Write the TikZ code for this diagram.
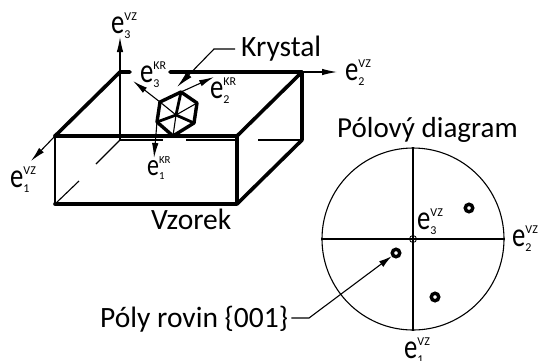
\documentclass[tikz,border=0pt]{standalone}
\usepackage{graphicx}
\usepackage{fontspec}
\setmainfont{Carlito}
\usetikzlibrary{arrows.meta}
\newcommand{\elab}[2]{\fontsize{29}{29}\selectfont\scalebox{.92}[1.18]{e}\rlap{\raisebox{13pt}{\fontsize{12}{12}\selectfont #1}}\raisebox{-5pt}{\fontsize{12}{12}\selectfont #2}}
\tikzset{
  x=1pt,y=-1pt,
  edge/.style={line width=3.6pt,line cap=round,line join=round},
  thinline/.style={line width=1.1pt},
  axis/.style={line width=1.1pt,-{Latex[length=15pt,width=6.5pt]}},
  hexthick/.style={line width=2.8pt,line join=round},
  lab/.style={inner sep=0pt,font=\fontsize{29.5}{30}\selectfont},
  elabel/.style={inner sep=0pt,anchor=base west},
  pole/.style={circle,draw,line width=3.4pt,minimum size=7.5pt,inner sep=0pt,fill=white},
}
\begin{document}
\begin{tikzpicture}
\useasboundingbox (0,0) rectangle (540,360);
% box corners
\coordinate (fl) at (55,136);
\coordinate (fr) at (237,136);
\coordinate (bfl) at (55,204);
\coordinate (bfr) at (237,204);
\coordinate (bl) at (120,72);
\coordinate (br) at (302,72);
\coordinate (brb) at (302,140);
\coordinate (o) at (120,140);
% box
\draw[edge] (fl) -- (bl) -- (130,72);
\draw[edge] (170,72) -- (br) -- (fr);
\draw[edge] (fl) -- (fr);
\draw[edge] (br) -- (brb) -- (bfr);
\draw[edge] (bfl) -- (bfr) -- (fr);
\draw[line width=2.4pt] (fl) -- (bfl);
% hidden axes
\draw[thinline] (o) -- (96,164) (79,181) -- (bfl);
\draw[thinline] (o) -- (163,140) (186,140) -- (237,140) (258,140) -- (brb);
\coordinate (t3) at (120,37);
\coordinate (t1) at (31,161);
\coordinate (t2) at (337,72);
\draw[axis] (o) -- (t3);
\draw[axis] (fl) -- (t1);
\draw[axis] (br) -- (t2);
% crystal
\coordinate (h1) at (181,92);
\coordinate (h2) at (197,103);
\coordinate (h3) at (194,123);
\coordinate (h4) at (173,136);
\coordinate (h5) at (157,122);
\coordinate (h6) at (160,102);
\coordinate (hc) at (176,115);
\draw[thinline] (h6) -- (hc) -- (h2) (hc) -- (h4);
\draw[hexthick] (h1) -- (hc) (h3) -- (hc) -- (h5);
\draw[line width=3.4pt,line join=round] (h1) -- (h2) -- (h3) -- (h4) -- (h5) -- (h6) -- cycle;
\coordinate (k3) at (133,81);
\coordinate (k2) at (214,77);
\coordinate (k1) at (154,158);
\draw[axis] (h6) -- (k3);
\draw[axis] (h1) -- (k2);
\draw[axis] (h5) -- (k1);
% labels
\node[lab,anchor=base west] (kry) at (241,56) {Krystal};
\node[lab,anchor=base west] (vzo) at (151,229) {Vzorek};
\node[lab,anchor=base west,font=\fontsize{29}{30}\selectfont] (pd) at (337,137) {Pólový diagram};
\node[lab,anchor=base west] (pr) at (100,327) {Póly rovin \{001\}};
\coordinate (kk) at (214,49);
\coordinate (kt) at (177,87);
\draw[thinline,-{Latex[length=17pt,width=7pt]}] ([xshift=-6]kry.west |- 0,49) -- (kk) -- (kt);
\node[elabel] (e3vz) at (111,33) {\elab{VZ}{3}};
\node[elabel] (e1vz) at (10,187) {\elab{VZ}{1}};
\node[elabel] (e2vz) at (345,80) {\elab{VZ}{2}};
\node[elabel] (e3kr) at (140,82) {\elab{KR}{3}};
\node[elabel] (e2kr) at (210,98) {\elab{KR}{2}};
\node[elabel,scale=.9] (e1kr) at (147,175) {\elab{KR}{1}};
% pole figure
\node[circle,draw,line width=1.1pt,minimum size=182pt,inner sep=0pt] (pf) at (413,239) {};
\draw[thinline] (pf.north) -- (pf.south) (pf.west) -- (pf.east);
\node[circle,draw,line width=.8pt,minimum size=7pt,inner sep=0pt] (ctr) at (pf.center) {};
\draw[line width=.6pt] (ctr.north) -- (ctr.south) (ctr.west) -- (ctr.east);
\node[pole] (p1) at (469,208) {};
\node[pole] (p2) at (396,253) {};
\node[pole] (p3) at (435,297) {};
\coordinate (pk) at (309,318);
\draw[thinline,-{Latex[length=13pt,width=7pt]}] ([xshift=3]pr.east |- 0,318) -- (pk) -- (p2);
\node[elabel] (e3c) at (417,229) {\elab{VZ}{3}};
\node[elabel] (e2r) at (512,246) {\elab{VZ}{2}};
\node[elabel] (e1b) at (404,358) {\elab{VZ}{1}};
\end{tikzpicture}
\end{document}
